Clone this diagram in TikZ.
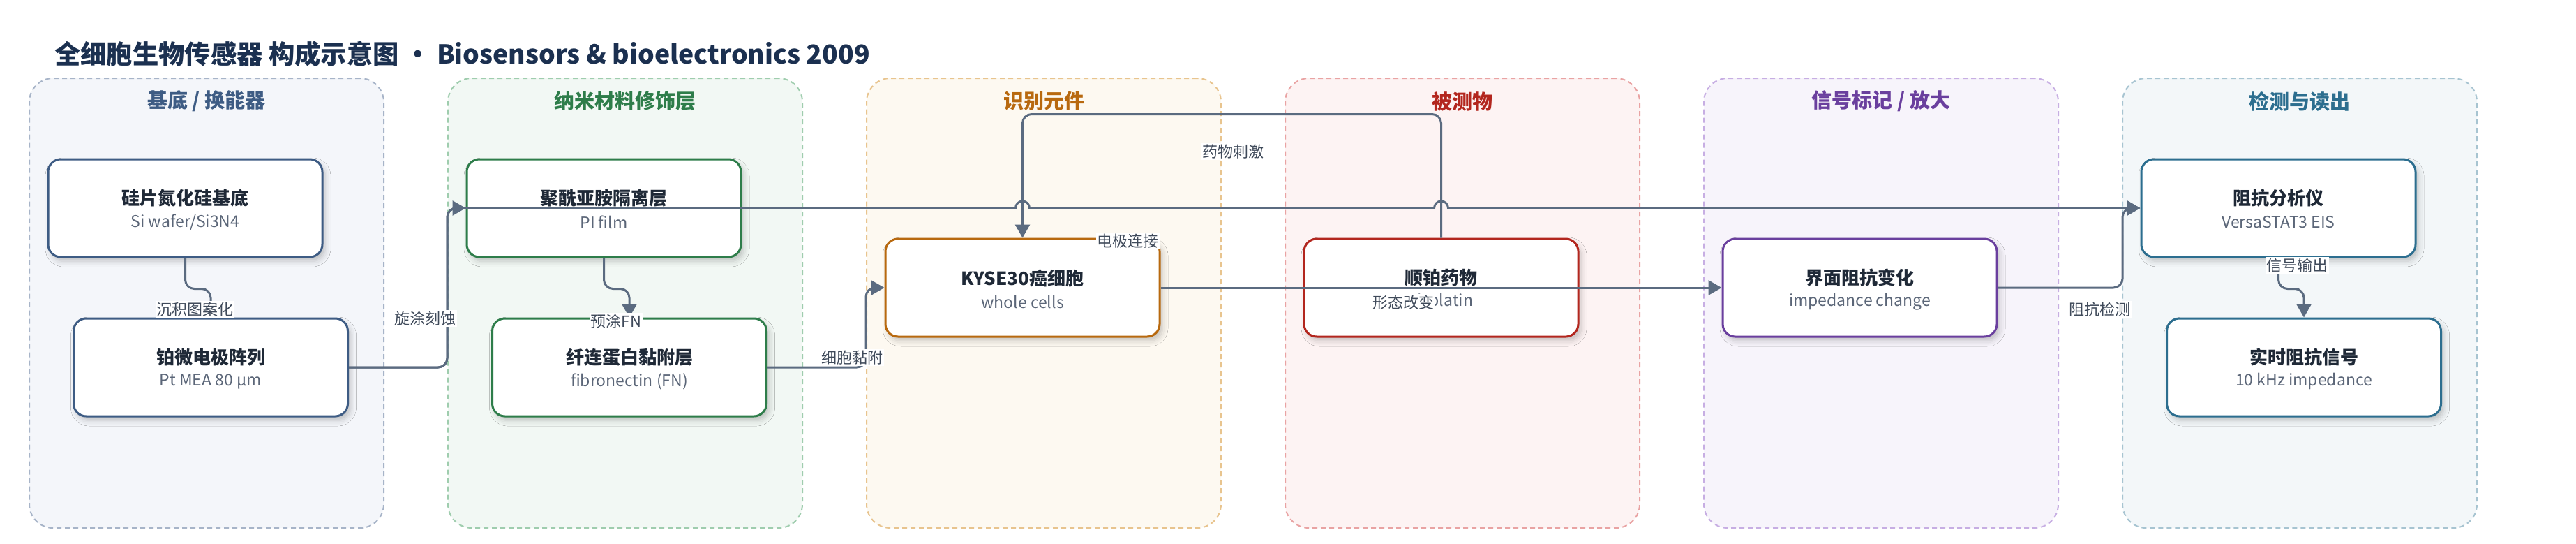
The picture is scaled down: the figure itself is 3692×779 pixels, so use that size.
\documentclass[tikz,border=0pt]{standalone}
\usepackage{fontspec}
\setmainfont{Noto Sans CJK SC}
\usetikzlibrary{arrows.meta,shadows.blur,calc}
\definecolor{ink}{HTML}{1F2937}
\definecolor{subc}{HTML}{5B6678}
\definecolor{labc}{HTML}{3F4A5A}
\definecolor{edgec}{HTML}{5B6B80}
\definecolor{titlec}{HTML}{1B3050}
\definecolor{gfA}{HTML}{F4F6FA}\definecolor{glA}{HTML}{A7B4C8}\definecolor{gtA}{HTML}{3E5C84}
\definecolor{gfB}{HTML}{F2F8F4}\definecolor{glB}{HTML}{9FCDAE}\definecolor{gtB}{HTML}{2E7D4A}
\definecolor{gfC}{HTML}{FDF9F1}\definecolor{glC}{HTML}{E8C48E}\definecolor{gtC}{HTML}{B8690F}
\definecolor{gfD}{HTML}{FDF3F3}\definecolor{glD}{HTML}{E9A3A3}\definecolor{gtD}{HTML}{B3261E}
\definecolor{gfE}{HTML}{F7F4FB}\definecolor{glE}{HTML}{C7AEE3}\definecolor{gtE}{HTML}{6A3F9E}
\definecolor{gfF}{HTML}{F3F7F9}\definecolor{glF}{HTML}{A7C4D1}\definecolor{gtF}{HTML}{2C6E8F}
\tikzset{
  grp/.style={line width=2pt, rounded corners=34pt, dash pattern=on 7pt off 5pt,
    minimum width=508pt, minimum height=644pt, inner sep=0pt},
  gttl/.style={font=\fontsize{29pt}{34pt}\selectfont\bfseries, inner sep=0pt},
  box/.style={fill=white, line width=3pt, rounded corners=18pt, minimum width=393pt,
    minimum height=140pt, inner sep=0pt,
    blur shadow={shadow xshift=4pt, shadow yshift=-6pt, shadow blur radius=8pt, shadow opacity=22}},
  ttl/.style={font=\fontsize{26pt}{30pt}\selectfont\bfseries, text=ink, inner sep=0pt},
  sub/.style={font=\fontsize{23pt}{27pt}\selectfont, text=subc, inner sep=0pt},
  conn/.style={draw=edgec, line width=3pt, rounded corners=13pt, -{Triangle[length=19pt,width=21pt]}},
  elab/.style={font=\fontsize{22pt}{26pt}\selectfont, text=labc, fill=white, inner sep=1.5pt},
}
\begin{document}
\begin{tikzpicture}[x=1pt,y=-1pt]
\fill[white] (0,0) rectangle (3692,779);
\useasboundingbox (0,0) rectangle (3692,779);
\node[anchor=west, font=\fontsize{37.3pt}{44pt}\selectfont\bfseries, text=titlec, inner sep=0pt] (title) at (78,77) {全细胞生物传感器 构成示意图 • Biosensors \& bioelectronics 2009};
% groups
\node[grp, draw=glA, fill=gfA] (G1) at (296,434) {};
\node[grp, draw=glB, fill=gfB] (G2) at (896,434) {};
\node[grp, draw=glC, fill=gfC] (G3) at (1496,434) {};
\node[grp, draw=glD, fill=gfD] (G4) at (2096,434) {};
\node[grp, draw=glE, fill=gfE] (G5) at (2696,434) {};
\node[grp, draw=glF, fill=gfF] (G6) at (3296,434) {};
\node[gttl, text=gtA] (G1t) at (296,145) {基底 / 换能器};
\node[gttl, text=gtB] (G2t) at (896,145) {纳米材料修饰层};
\node[gttl, text=gtC] (G3t) at (1496,145) {识别元件};
\node[gttl, text=gtD] (G4t) at (2096,145) {被测物};
\node[gttl, text=gtE] (G5t) at (2696,145) {信号标记 / 放大};
\node[gttl, text=gtF] (G6t) at (3296,145) {检测与读出};
% nodes
\node[box, draw=gtA] (n1) at (265.5,298) {};
\node[ttl] (n1t) at ($(n1.center)+(0,-14)$) {硅片氮化硅基底};
\node[sub] (n1s) at ($(n1.center)+(0,20)$) {Si wafer/Si3N4};
\node[box, draw=gtA] (n2) at (302,526) {};
\node[ttl] (n2t) at ($(n2.center)+(0,-14)$) {铂微电极阵列};
\node[sub] (n2s) at ($(n2.center)+(0,20)$) {Pt MEA 80 µm};
\node[box, draw=gtB] (n3) at (865.5,298) {};
\node[ttl] (n3t) at ($(n3.center)+(0,-14)$) {聚酰亚胺隔离层};
\node[sub] (n3s) at ($(n3.center)+(0,20)$) {PI film};
\node[box, draw=gtB] (n4) at (902,526) {};
\node[ttl] (n4t) at ($(n4.center)+(0,-14)$) {纤连蛋白黏附层};
\node[sub] (n4s) at ($(n4.center)+(0,20)$) {fibronectin (FN)};
\node[box, draw=gtC] (n5) at (1465.5,412) {};
\node[ttl] (n5t) at ($(n5.center)+(0,-14)$) {KYSE30癌细胞};
\node[sub] (n5s) at ($(n5.center)+(0,20)$) {whole cells};
\node[box, draw=gtD] (n6) at (2065.5,412) {};
\node[ttl] (n6t) at ($(n6.center)+(0,-14)$) {顺铂药物};
\node[sub] (n6s) at ($(n6.center)+(0,20)$) {cisplatin};
\node[box, draw=gtE] (n7) at (2665.5,412) {};
\node[ttl] (n7t) at ($(n7.center)+(0,-14)$) {界面阻抗变化};
\node[sub] (n7s) at ($(n7.center)+(0,20)$) {impedance change};
\node[box, draw=gtF] (n8) at (3265.5,298) {};
\node[ttl] (n8t) at ($(n8.center)+(0,-14)$) {阻抗分析仪};
\node[sub] (n8s) at ($(n8.center)+(0,20)$) {VersaSTAT3 EIS};
\node[box, draw=gtF] (n9) at (3302,526) {};
\node[ttl] (n9t) at ($(n9.center)+(0,-14)$) {实时阻抗信号};
\node[sub] (n9s) at ($(n9.center)+(0,20)$) {10 kHz impedance};
% junctions
\coordinate (j1) at (641,298);
\coordinate (j2) at (1241,412);
\coordinate (j3) at (3042,298);
% connectors
\draw[conn] (n1.south) -- ++(0,44) -| (n2.north);
\draw[conn] (n2.east) -| (j1) -- (n3.west);
\draw[conn] (n2.east) -| (j1) -- (1300,298) [sharp corners] -- (1455.5,298) arc[start angle=180,end angle=0,radius=10pt]
  -- (2055.5,298) arc[start angle=180,end angle=0,radius=10pt] -- (n8.west);
\draw[conn] (n3.south) -- ++(0,44) -| (n4.north);
\draw[conn] (n4.east) -| (j2) -- (n5.west);
\draw[conn] (n5.east) -- (n7.west);
\draw[conn] (n6.north) -- ++(0,-177) -| (n5.north);
\draw[conn] (n7.east) -| (j3) -- (n8.west);
\draw[conn] (n8.south) -- ++(0,44) -| (n9.north);
% connector labels
\node[elab] (l1) at (279,443) {沉积图案化};
\node[elab] (l2) at (609,456) {旋涂刻蚀};
\node[elab] (l3) at (883,460) {预涂FN};
\node[elab] (l4) at (1221,512) {细胞黏附};
\node[elab] (l5) at (1616,345) {电极连接};
\node[elab] (l6) at (1767,217) {药物刺激};
\node[elab] (l7) at (2011,433) {形态改变};
\node[elab] (l8) at (3009,443) {阻抗检测};
\node[elab] (l9) at (3292,380) {信号输出};
\end{tikzpicture}
\end{document}
